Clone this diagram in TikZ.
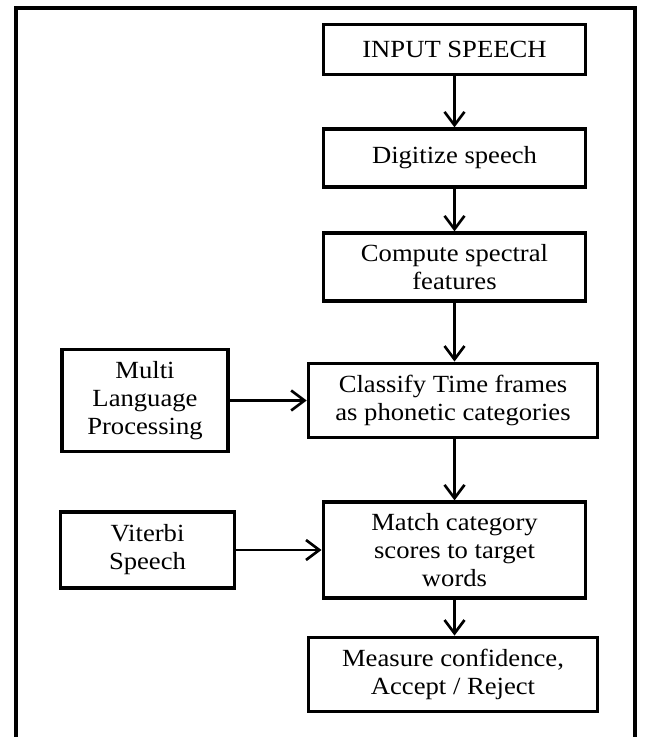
\documentclass[tikz,border=0pt]{standalone}
\usepackage{fontspec}
\setmainfont{Liberation Serif}[FakeStretch=1.08]
\usetikzlibrary{arrows.meta}
\tikzstyle{step-box} = [rectangle, draw=black, line width=2.4pt, align=center, inner sep=2pt, font=\fontsize{18.5}{21}\selectfont]
\tikzstyle{arrow} = [line width=2pt, -{Straight Barb[length=10pt, width=15pt, line width=2pt]}]

\begin{document}
\begin{tikzpicture}[x=0.75pt, y=-0.75pt]
\useasboundingbox (0,0) rectangle (644,737);

% outer frame, open at the bottom
\draw [line width=3pt] (16,737) -- (16,8) -- (635,8) -- (635,737);

% main column
\node (input) [step-box, minimum width=197pt, minimum height=37.5pt] at (454.5,49.5) {INPUT SPEECH};
\node (digit) [step-box, minimum width=197pt, minimum height=43.5pt] at (454.5,158) {Digitize speech};
\node (spect) [step-box, minimum width=197pt, minimum height=51pt] at (454.5,267) {Compute spectral\\features};
\node (classify) [step-box, minimum width=217pt, minimum height=56pt] at (453,400.5) {Classify Time frames\\as phonetic categories};
\node (match) [step-box, minimum width=197pt, minimum height=72pt] at (454.5,550) {Match category\\scores to target\\words};
\node (measure) [step-box, minimum width=217pt, minimum height=56pt] at (453,674.5) {Measure confidence,\\Accept / Reject};

% side inputs
\node (multi) [step-box, minimum width=124.5pt, minimum height=76pt] at (145,400.5) {Multi\\Language\\Processing};
\node (viterbi) [step-box, minimum width=130pt, minimum height=57pt] at (147.5,550) {Viterbi\\Speech};

\draw [arrow] (input) -- (digit);
\draw [arrow] (digit) -- (spect);
\draw [arrow] (spect) -- (classify.north -| spect);
\draw [arrow] (classify.south -| match) -- (match);
\draw [arrow] (match) -- (measure.north -| match);
\draw [arrow] (multi) -- (classify);
\draw [arrow] (viterbi) -- (match);

\end{tikzpicture}
\end{document}
